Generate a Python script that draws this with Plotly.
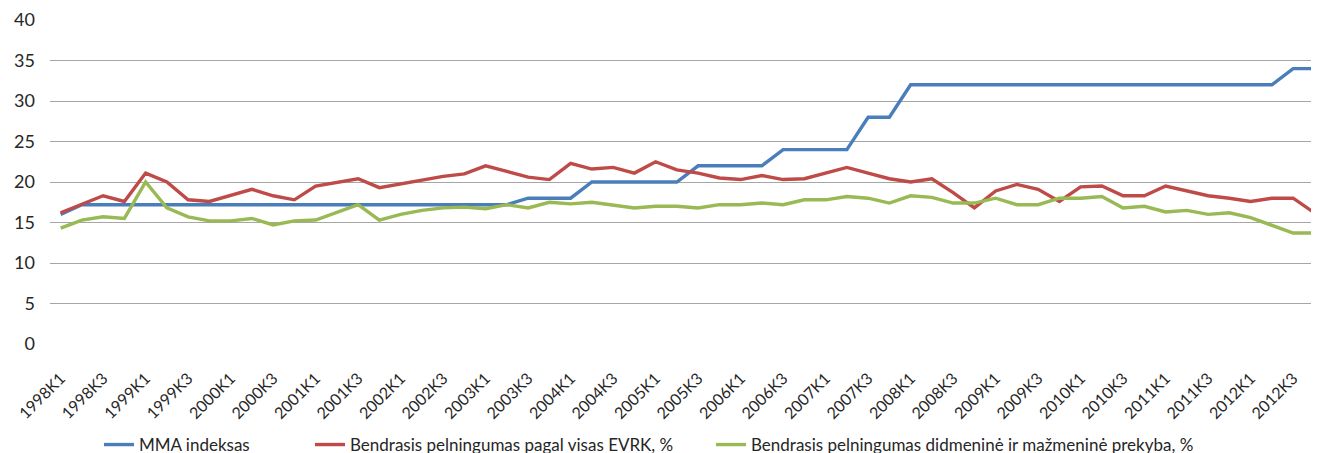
import plotly.graph_objects as go

years = list(range(1998, 2013))
quarters = [f"{y}K{q}" for y in years for q in range(1, 5)]

mma = [16.0] + [17.2] * 21 + [18.0] * 3 + [20.0] * 5 + [22.0] * 4 + [24.0] * 4 + [28.0] * 2 + [32.0] * 18 + [34.0] * 2

pelningumas_evrk = [
    16.2, 17.2, 18.3, 17.6, 21.1, 20.0, 17.8, 17.6, 18.3, 19.1,
    18.3, 17.8, 19.5, 19.9, 20.4, 19.3, 19.8, 20.3, 20.7, 21.0,
    22.0, 21.3, 20.6, 20.3, 22.3, 21.6, 21.8, 21.1, 22.5, 21.5,
    21.1, 20.5, 20.3, 20.8, 20.3, 20.4, 21.1, 21.8, 21.1, 20.4,
    20.0, 20.4, 18.7, 16.8, 18.9, 19.7, 19.1, 17.6, 19.4, 19.5,
    18.3, 18.3, 19.5, 18.9, 18.3, 18.0, 17.6, 18.0, 18.0, 16.2,
]

pelningumas_prekyba = [
    14.3, 15.3, 15.7, 15.5, 20.0, 16.8, 15.7, 15.2, 15.2, 15.5,
    14.7, 15.2, 15.3, 16.2, 17.2, 15.3, 16.0, 16.5, 16.8, 16.9,
    16.7, 17.2, 16.8, 17.5, 17.3, 17.5, 17.2, 16.8, 17.0, 17.0,
    16.8, 17.2, 17.2, 17.4, 17.2, 17.8, 17.8, 18.2, 18.0, 17.4,
    18.3, 18.1, 17.4, 17.4, 18.0, 17.2, 17.2, 18.0, 18.0, 18.2,
    16.8, 17.0, 16.3, 16.5, 16.0, 16.2, 15.6, 14.6, 13.7, 13.7,
]

names = [
    "MMA indeksas",
    "Bendrasis pelningumas pagal visas EVRK, %",
    "Bendrasis pelningumas didmeninė ir mažmeninė prekyba, %",
]
colors = ["#4A7EBB", "#BE4B48", "#98B954"]
legend_ids = ["legend", "legend2", "legend3"]
legend_x_px = [91, 302, 703]

font_family = "Lato, Open Sans, sans-serif"
text_color = "#262626"
W, H = 1319, 453

fig = go.Figure()
for name, vals, col, lid in zip(names, [mma, pelningumas_evrk, pelningumas_prekyba], colors, legend_ids):
    fig.add_trace(go.Scatter(
        x=list(range(len(quarters))), y=vals, mode="lines", name=name,
        line=dict(color=col, width=3.4), legend=lid,
    ))

legend_common = dict(
    orientation="h", xref="container", yref="container",
    xanchor="left", yanchor="middle", y=1 - 437 / H,
    font=dict(size=17, color=text_color, family=font_family),
    itemwidth=30, bgcolor="rgba(0,0,0,0)",
)

fig.update_layout(
    width=W, height=H,
    margin=dict(l=42, r=2, t=12, b=117),
    paper_bgcolor="white", plot_bgcolor="white",
    font=dict(family=font_family, color=text_color),
    showlegend=True,
    legend=dict(x=legend_x_px[0] / W, **legend_common),
    legend2=dict(x=legend_x_px[1] / W, **legend_common),
    legend3=dict(x=legend_x_px[2] / W, **legend_common),
)
fig.update_xaxes(
    range=[-0.5, 59.5],
    tickmode="array",
    tickvals=list(range(0, len(quarters), 2)),
    ticktext=quarters[::2],
    tickangle=-45,
    tickfont=dict(size=16, color=text_color),
    showgrid=False, zeroline=False, showline=False, ticks="",
    automargin=False, ticklabelstandoff=21,
)
fig.update_yaxes(
    range=[0, 40], dtick=5,
    showgrid=True, gridcolor="#A6A6A6", gridwidth=1.4,
    zeroline=False, showline=False, ticks="",
    tickfont=dict(size=18, color=text_color),
    automargin=False, ticklabelstandoff=14,
)

fig.write_html("out.html")
